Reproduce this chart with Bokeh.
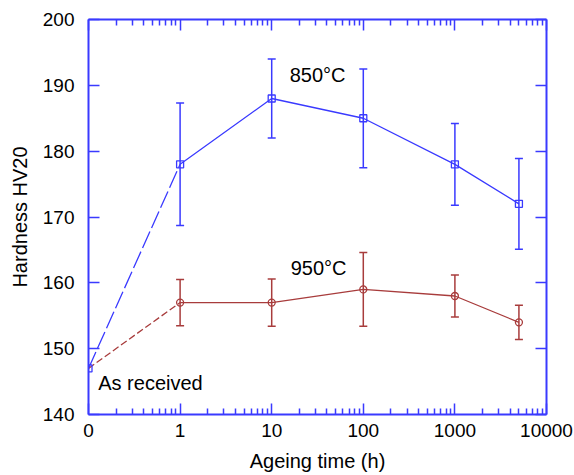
from bokeh.plotting import figure
from bokeh.models import (ColumnDataSource, Whisker, TeeHead, FixedTicker,
                          LogAxis, LinearAxis, Label)
from bokeh.embed import file_html
from bokeh.resources import INLINE

# ---------------- data ----------------
times = [1, 10, 100, 1000, 5000]            # ageing time (h)
as_received_time = 0
as_received_hv = 147
hv_850 = [178, 188, 185, 178, 172]
err_850 = [9.3, 6.0, 7.5, 6.2, 6.9]
hv_950 = [157, 157, 159, 158, 154]
err_950 = [3.5, 3.6, 5.6, 3.2, 2.6]
x_tick_values = [0, 1, 10, 100, 1000, 10000]
x_tick_labels = ["0", "1", "10", "100", "1000", "10000"]
y_ticks = [140, 150, 160, 170, 180, 190, 200]
label_850 = "850°C"
label_950 = "950°C"
label_as = "As received"
x_title = "Ageing time (h)"
y_title = "Hardness HV20"

# time 0 is drawn one decade below 1 h on the log axis
ZERO_POS = 0.1
def xpos(t):
    return ZERO_POS if t == 0 else t

BLUE = "#3a3aff"
RED = "#a83c3c"
FONT = "Liberation Sans"

x_major = [xpos(t) for t in x_tick_values]
x_minor = [k * 10 ** d for d in range(-1, 4) for k in range(2, 10)]
xticker = FixedTicker(ticks=x_major, minor_ticks=x_minor)
yticker = FixedTicker(ticks=y_ticks, minor_ticks=[])
overrides = {xpos(t): lab for t, lab in zip(x_tick_values, x_tick_labels)}

p = figure(width=574, height=475, x_axis_type="log",
           x_range=(ZERO_POS, 10000), y_range=(140, 200),
           output_backend="svg", toolbar_location=None,
           min_border_left=88, min_border_right=28,
           min_border_top=19, min_border_bottom=61)
p.grid.visible = False
p.outline_line_color = None
p.background_fill_color = "white"
p.border_fill_color = "white"

def style_axis(ax, show_labels):
    ax.axis_line_color = BLUE
    ax.axis_line_width = 2
    ax.major_tick_line_color = BLUE
    ax.major_tick_line_width = 1.5
    ax.minor_tick_line_color = BLUE
    ax.minor_tick_line_width = 1.5
    ax.major_tick_in = 11
    ax.major_tick_out = 0
    ax.minor_tick_in = 6
    ax.minor_tick_out = 0
    if show_labels:
        ax.major_label_text_font = FONT
        ax.major_label_text_font_size = "19px"
        ax.major_label_text_color = "black"
        ax.axis_label_text_font = FONT
        ax.axis_label_text_font_size = "20px"
        ax.axis_label_text_font_style = "normal"
        ax.axis_label_text_color = "black"
    else:
        ax.major_label_text_font_size = "1px"
        ax.major_label_text_color = None
        ax.major_label_standoff = 0

xa = p.xaxis[0]
xa.ticker = xticker
xa.major_label_overrides = overrides
xa.axis_label = x_title
style_axis(xa, True)
xa.major_label_standoff = 9
xa.axis_label_standoff = 10

ya = p.yaxis[0]
ya.ticker = yticker
ya.axis_label = y_title
style_axis(ya, True)
ya.major_label_standoff = 14
ya.axis_label_standoff = 9

top = LogAxis(ticker=xticker)
style_axis(top, False)
p.add_layout(top, "above")
right = LinearAxis(ticker=yticker)
style_axis(right, False)
p.add_layout(right, "right")

xs = [xpos(t) for t in times]
x0 = xpos(as_received_time)

# dashed links from the as-received state
p.line([x0, xs[0]], [as_received_hv, hv_850[0]], line_color=BLUE,
       line_width=1.3, line_dash="18 4")
p.line([x0, xs[0]], [as_received_hv, hv_950[0]], line_color=RED,
       line_width=1.3, line_dash="7 3")

# solid series lines
p.line(xs, hv_850, line_color=BLUE, line_width=1.3)
p.line(xs, hv_950, line_color=RED, line_width=1.3)

# error bars
for hv, err, col in ((hv_850, err_850, BLUE), (hv_950, err_950, RED)):
    src = ColumnDataSource(dict(x=xs, upper=[h + e for h, e in zip(hv, err)],
                                lower=[h - e for h, e in zip(hv, err)]))
    w = Whisker(base="x", upper="upper", lower="lower", source=src,
                dimension="height", line_color=col, line_width=1.5,
                upper_head=TeeHead(size=8, line_color=col, line_width=1.5),
                lower_head=TeeHead(size=8, line_color=col, line_width=1.5))
    p.add_layout(w)

# markers
p.scatter(xs, hv_850, marker="square", size=7, fill_color=None,
          line_color=BLUE, line_width=1.3)
p.scatter(xs, hv_950, marker="circle", size=7, fill_color=None,
          line_color=RED, line_width=1.3)
p.scatter([x0], [as_received_hv], marker="square", size=7, fill_color=None,
          line_color=BLUE, line_width=1.3)

for txt, x, y in ((label_850, 15.7, 191.6), (label_950, 16.1, 162.25),
                  (label_as, 0.1276, 144.8)):
    p.add_layout(Label(x=x, y=y, text=txt, text_font=FONT,
                       text_font_size="20px", text_color="black",
                       text_align="left", text_baseline="middle"))

open("out.html", "w").write(file_html(p, INLINE))
